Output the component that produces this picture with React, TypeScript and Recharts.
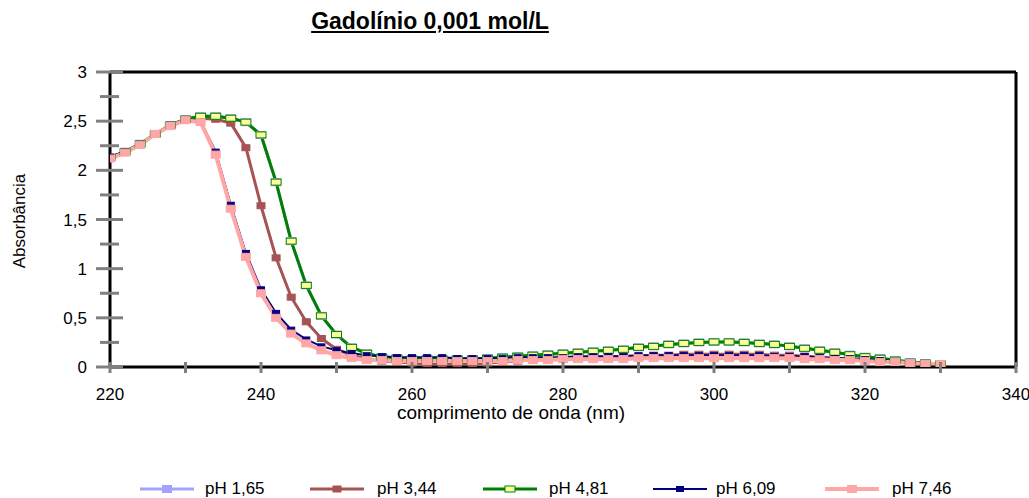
import React from 'react';
import { LineChart, Line, XAxis, YAxis, ReferenceLine } from 'recharts';

// Wavelengths (nm), sampled every 2 nm
const wavelengths = [
  220, 222, 224, 226, 228, 230, 232, 234, 236, 238, 240, 242, 244, 246, 248, 250,
  252, 254, 256, 258, 260, 262, 264, 266, 268, 270, 272, 274, 276, 278, 280, 282,
  284, 286, 288, 290, 292, 294, 296, 298, 300, 302, 304, 306, 308, 310, 312, 314,
  316, 318, 320, 322, 324, 326, 328, 330,
];

// Absorbance for each pH
const ph165 = [
  2.13, 2.19, 2.27, 2.37, 2.46, 2.52, 2.55, 2.55, 2.53, 2.49, 2.36, 1.88, 1.28, 0.83, 0.52, 0.33,
  0.2, 0.14, 0.1, 0.09, 0.08, 0.08, 0.08, 0.08, 0.08, 0.09, 0.1, 0.11, 0.12, 0.13, 0.14, 0.15,
  0.16, 0.17, 0.18, 0.2, 0.21, 0.23, 0.24, 0.25, 0.255, 0.255, 0.25, 0.24, 0.23, 0.21, 0.19, 0.17,
  0.15, 0.125, 0.105, 0.09, 0.07, 0.05, 0.04, 0.03,
];
const ph344 = [
  2.13, 2.19, 2.26, 2.37, 2.46, 2.52, 2.53, 2.52, 2.48, 2.23, 1.64, 1.11, 0.71, 0.46, 0.29, 0.18,
  0.12, 0.08, 0.06, 0.05, 0.04, 0.03, 0.03, 0.03, 0.03, 0.04, 0.05, 0.06, 0.07, 0.08, 0.09, 0.09,
  0.1, 0.1, 0.11, 0.11, 0.12, 0.12, 0.13, 0.13, 0.13, 0.13, 0.13, 0.13, 0.12, 0.12, 0.11, 0.1,
  0.09, 0.08, 0.07, 0.06, 0.05, 0.04, 0.03, 0.03,
];
const ph481 = [
  2.13, 2.19, 2.27, 2.37, 2.46, 2.52, 2.55, 2.55, 2.53, 2.49, 2.36, 1.88, 1.28, 0.83, 0.52, 0.33,
  0.2, 0.14, 0.1, 0.09, 0.08, 0.08, 0.08, 0.08, 0.08, 0.09, 0.1, 0.11, 0.12, 0.13, 0.14, 0.15,
  0.16, 0.17, 0.18, 0.2, 0.21, 0.23, 0.24, 0.25, 0.255, 0.255, 0.25, 0.24, 0.23, 0.21, 0.19, 0.17,
  0.15, 0.125, 0.105, 0.09, 0.07, 0.05, 0.04, 0.03,
];
const ph609 = [
  2.14, 2.19, 2.27, 2.37, 2.45, 2.51, 2.5, 2.19, 1.65, 1.16, 0.79, 0.55, 0.38, 0.28, 0.21, 0.17,
  0.14, 0.12, 0.11, 0.1, 0.1, 0.1, 0.1, 0.09, 0.09, 0.09, 0.09, 0.1, 0.1, 0.1, 0.1, 0.11,
  0.11, 0.11, 0.11, 0.12, 0.12, 0.12, 0.12, 0.12, 0.12, 0.12, 0.12, 0.12, 0.11, 0.11, 0.11, 0.1,
  0.09, 0.09, 0.08, 0.07, 0.06, 0.05, 0.04, 0.03,
];
const ph746 = [
  2.12, 2.18, 2.26, 2.37, 2.45, 2.51, 2.49, 2.16, 1.61, 1.12, 0.75, 0.5, 0.34, 0.24, 0.17, 0.12,
  0.09, 0.07, 0.07, 0.06, 0.06, 0.06, 0.06, 0.06, 0.06, 0.06, 0.06, 0.07, 0.07, 0.07, 0.08, 0.08,
  0.08, 0.08, 0.08, 0.09, 0.09, 0.09, 0.09, 0.09, 0.09, 0.09, 0.09, 0.09, 0.09, 0.09, 0.08, 0.08,
  0.07, 0.07, 0.06, 0.05, 0.05, 0.04, 0.03, 0.03,
];

const xTicks = [220, 230, 240, 250, 260, 270, 280, 290, 300, 310, 320, 330, 340];
const yTicks = [0, 0.25, 0.5, 0.75, 1, 1.25, 1.5, 1.75, 2, 2.25, 2.5, 2.75, 3];

const title = 'Gadolínio 0,001 mol/L';
const xLabel = 'comprimento de onda (nm)';
const yLabel = 'Absorbância';

type Series = {
  key: string;
  name: string;
  stroke: string;
  width: number;
  fill: string;
  border: string;
  mw: number;
  mh: number;
};

const series: Series[] = [
  { key: 'ph165', name: 'pH 1,65', stroke: '#A3A3FF', width: 3, fill: '#A3A3FF', border: '#A3A3FF', mw: 9, mh: 7 },
  { key: 'ph344', name: 'pH 3,44', stroke: '#A65353', width: 3, fill: '#A65353', border: '#A65353', mw: 8, mh: 6 },
  { key: 'ph481', name: 'pH 4,81', stroke: '#008000', width: 3, fill: '#FFFF99', border: '#008000', mw: 10, mh: 6 },
  { key: 'ph609', name: 'pH 6,09', stroke: '#000080', width: 2, fill: '#000080', border: '#000080', mw: 7, mh: 5 },
  { key: 'ph746', name: 'pH 7,46', stroke: '#FFA6A6', width: 4, fill: '#FFA6A6', border: '#FFA6A6', mw: 9, mh: 7 },
];

const columns: Record<string, number[]> = { ph165, ph344, ph481, ph609, ph746 };

const data = wavelengths.map((nm, i) => {
  const row: Record<string, number> = { nm };
  for (const s of series) row[s.key] = columns[s.key][i];
  return row;
});

const FONT = '"Liberation Sans", Arial, Helvetica, sans-serif';
const TICK_GRAY = '#808080';
const W = 1029;
const H = 498;

const fmt = (v: number) => String(v).replace('.', ',');

const XTick = (props: any) => {
  const { x, y, payload } = props;
  const v = payload.value as number;
  return (
    <g>
      <line x1={x} x2={x} y1={y - 5} y2={y + 6} stroke={TICK_GRAY} strokeWidth={3} />
      {v % 20 === 0 && (
        <text x={x} y={y + 33} textAnchor="middle" fontSize={17} fontFamily={FONT} fill="#000">
          {v}
        </text>
      )}
    </g>
  );
};

const YTick = (props: any) => {
  const { x, y, payload } = props;
  const v = payload.value as number;
  const major = Math.abs(v * 2 - Math.round(v * 2)) < 1e-6;
  return (
    <g>
      <line
        x1={major ? x - 14 : x - 10}
        x2={major ? x + 13 : x + 9}
        y1={y}
        y2={y}
        stroke={TICK_GRAY}
        strokeWidth={3}
      />
      {major && (
        <text x={x - 23} y={y + 6} textAnchor="end" fontSize={17} fontFamily={FONT} fill="#000">
          {fmt(v)}
        </text>
      )}
    </g>
  );
};

const makeDot = (s: Series) => (props: any) => {
  const { cx, cy, index } = props;
  if (cx == null || cy == null) return <g key={index} />;
  return (
    <rect
      key={index}
      x={cx - s.mw / 2}
      y={cy - s.mh / 2}
      width={s.mw}
      height={s.mh}
      fill={s.fill}
      stroke={s.border}
      strokeWidth={1}
    />
  );
};

// legend sample line start and label start, per entry
const legendLineX = [140, 310, 483, 653, 825];
const legendTextX = [205, 377, 549, 716, 892];

const LegendRow = () => (
  <svg width={W} height={22} style={{ position: 'absolute', left: 0, top: 476 }}>
    {series.map((s, i) => {
      const x0 = legendLineX[i];
      const cy = 13;
      return (
        <g key={s.key}>
          <line x1={x0} x2={x0 + 54} y1={cy} y2={cy} stroke={s.stroke} strokeWidth={s.width} />
          <rect
            x={x0 + 27 - s.mw / 2}
            y={cy - s.mh / 2}
            width={s.mw}
            height={s.mh}
            fill={s.fill}
            stroke={s.border}
            strokeWidth={1}
          />
          <text x={legendTextX[i]} y={cy + 5} fontSize={17} fontFamily={FONT} fill="#000">
            {s.name}
          </text>
        </g>
      );
    })}
  </svg>
);

export default function App() {
  return (
    <div
      style={{
        position: 'fixed',
        left: 0,
        top: 0,
        width: W,
        height: H,
        overflow: 'hidden',
        fontFamily: FONT,
        background: '#fff',
      }}
    >
      <div
        style={{
          position: 'absolute',
          left: 250,
          top: 8,
          width: 360,
          textAlign: 'center',
          fontSize: 23,
          fontWeight: 'bold',
          textDecoration: 'underline',
          whiteSpace: 'nowrap',
          color: '#000',
          zIndex: 2,
        }}
      >
        {title}
      </div>
      <div
        style={{
          position: 'absolute',
          left: 20 - 60,
          top: 221 - 10,
          width: 120,
          height: 20,
          lineHeight: '20px',
          textAlign: 'center',
          fontSize: 17,
          transform: 'rotate(-90deg)',
          whiteSpace: 'nowrap',
          color: '#000',
          zIndex: 2,
        }}
      >
        {yLabel}
      </div>
      <div
        style={{
          position: 'absolute',
          left: 511 - 160,
          top: 403,
          width: 320,
          height: 20,
          lineHeight: '20px',
          textAlign: 'center',
          fontSize: 19,
          whiteSpace: 'nowrap',
          color: '#000',
          zIndex: 2,
        }}
      >
        {xLabel}
      </div>
      <div style={{ position: 'absolute', left: 0, top: 0 }}>
        <LineChart
          width={W}
          height={H}
          data={data}
          margin={{ top: 72, right: 13, left: 50, bottom: 101 }}
        >
          <XAxis
            dataKey="nm"
            type="number"
            domain={[220, 340]}
            ticks={xTicks}
            interval={0}
            height={30}
            tickSize={0}
            tickMargin={0}
            tickLine={false}
            tick={<XTick />}
            axisLine={{ stroke: '#000', strokeWidth: 3 }}
            allowDataOverflow
          />
          <YAxis
            type="number"
            domain={[0, 3]}
            ticks={yTicks}
            interval={0}
            width={60}
            tickSize={0}
            tickMargin={0}
            tickLine={false}
            tick={<YTick />}
            axisLine={{ stroke: '#000', strokeWidth: 3 }}
            allowDataOverflow
          />
          <ReferenceLine y={3} stroke="#000" strokeWidth={3} />
          <ReferenceLine x={340} stroke="#000" strokeWidth={3} />
          {series.map((s) => (
            <Line
              key={s.key}
              dataKey={s.key}
              name={s.name}
              type="linear"
              stroke={s.stroke}
              strokeWidth={s.width}
              dot={makeDot(s)}
              activeDot={false}
              isAnimationActive={false}
            />
          ))}
        </LineChart>
      </div>
      <LegendRow />
    </div>
  );
}
